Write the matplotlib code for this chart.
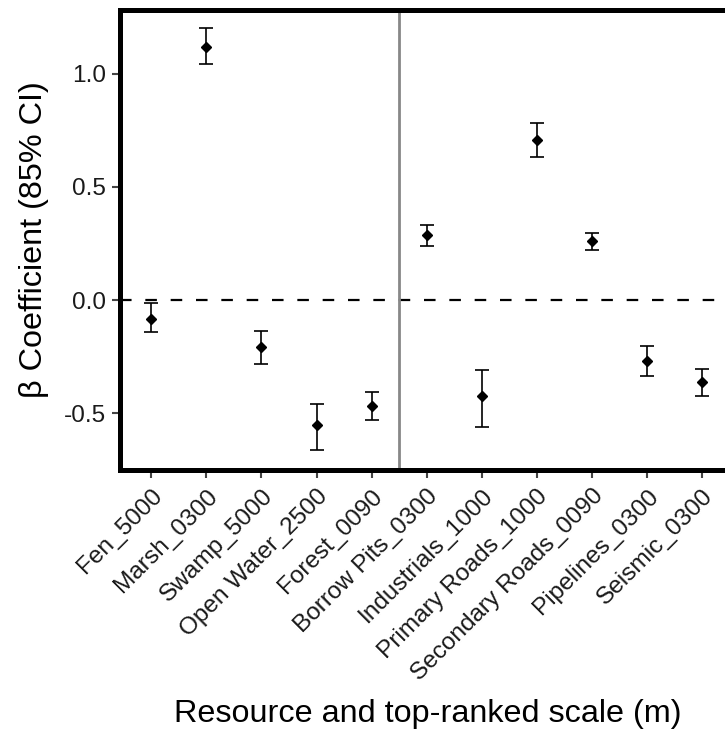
import matplotlib
matplotlib.use("Agg")
import matplotlib.pyplot as plt
import numpy as np

plt.rcParams['font.family'] = ['Liberation Sans', 'DejaVu Sans']

categories = ["Fen_5000", "Marsh_0300", "Swamp_5000", "Open Water_2500",
              "Forest_0090", "Borrow Pits_0300", "Industrials_1000",
              "Primary Roads_1000", "Secondary Roads_0090", "Pipelines_0300",
              "Seismic_0300"]
beta = [-0.084, 1.120, -0.208, -0.553, -0.469, 0.288, -0.425, 0.708, 0.261,
        -0.270, -0.363]
ci_low = [-0.142, 1.044, -0.283, -0.664, -0.531, 0.239, -0.562, 0.633, 0.221,
          -0.336, -0.425]
ci_high = [-0.013, 1.204, -0.137, -0.460, -0.407, 0.332, -0.310, 0.783, 0.296,
           -0.204, -0.305]
y_ticks = [-0.5, 0.0, 0.5, 1.0]
y_tick_labels = ["-0.5", "0.0", "0.5", "1.0"]
group_split = 4.5  # between natural cover and anthropogenic features

W, H = 725, 732
fig = plt.figure(figsize=(W / 100, H / 100), dpi=100)

x0, x1 = -0.57, 10.6
px_per_cat = 55.1
left_px, top_px, bottom_px = 119.8, 9.8, 469.8
width_px = (x1 - x0) * px_per_cat
height_px = bottom_px - top_px
ax = fig.add_axes([left_px / W, 1 - bottom_px / H, width_px / W,
                   height_px / H])

x = np.arange(len(categories))
beta = np.array(beta)
err = np.vstack([beta - np.array(ci_low), np.array(ci_high) - beta])

ax.axhline(0, color='black', lw=1.6, linestyle=(0, (5.2, 6.2)), zorder=1)
ax.axvline(group_split, color='#888888', lw=2.0, zorder=1)
ax.errorbar(x, beta, yerr=err, fmt='D', color='black', ms=5.4,
            elinewidth=1.2, capsize=4.7, capthick=1.2, zorder=3)

ax.set_xlim(x0, x1)
ax.set_ylim(-0.75, 1.283)
ax.set_yticks(y_ticks)
ax.set_yticklabels(y_tick_labels)
ax.set_xticks(x)
ax.set_xticklabels(categories, rotation=45, ha='right', va='top',
                   rotation_mode='anchor')

for s in ax.spines.values():
    s.set_linewidth(3.6)
    s.set_color('black')
    s.set_capstyle('projecting')

ax.tick_params(axis='both', length=6, width=1.5, color='#444444',
               labelsize=17.6, labelcolor='#1a1a1a', pad=4)
ax.tick_params(axis='x', pad=5)

ax.set_ylabel("\u03b2 Coefficient (85% CI)", fontsize=23.3, labelpad=11)
ax.set_xlabel("Resource and top-ranked scale (m)", fontsize=23.3)
ax.xaxis.label.set_va('center')
ax.xaxis.set_label_coords(0.5, -(714 - bottom_px) / height_px)

fig.savefig("out.png", dpi=100)
